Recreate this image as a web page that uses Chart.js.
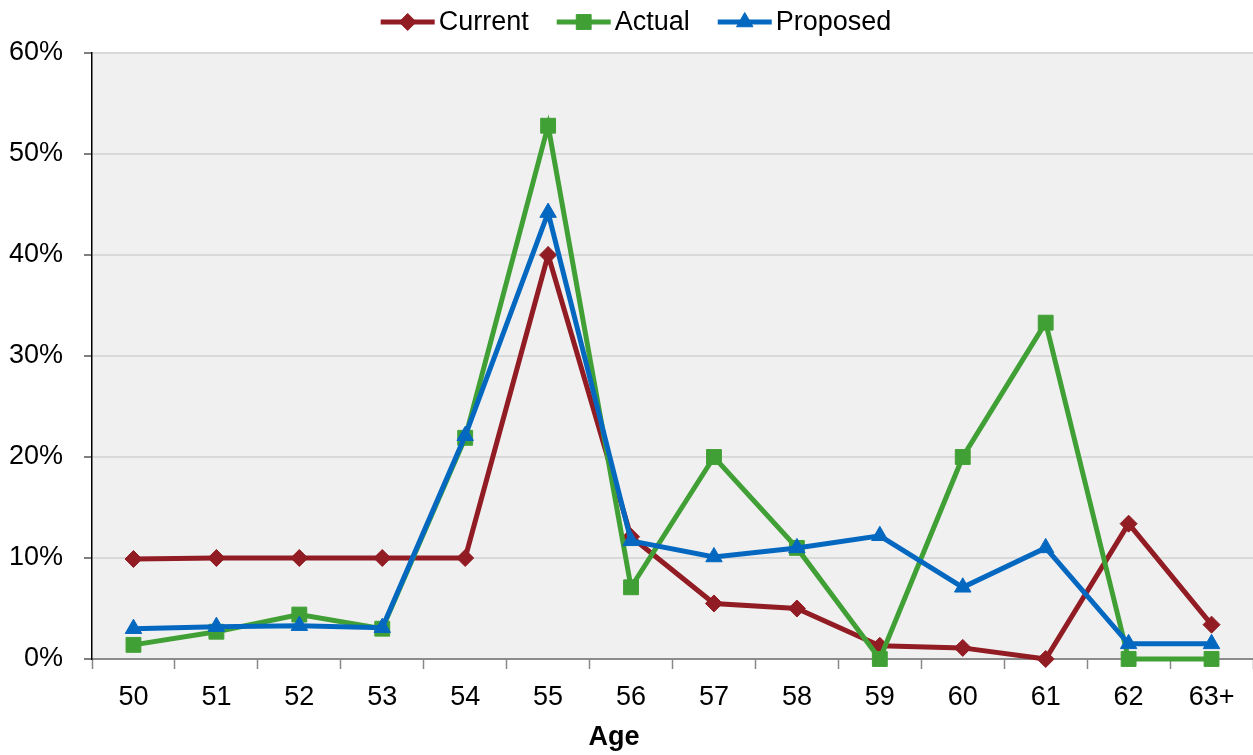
<!DOCTYPE html>
<html>
<head>
<meta charset="utf-8">
<script src="https://cdn.jsdelivr.net/npm/chart.js@4/dist/chart.umd.min.js"></script>
<style>
  html, body { margin: 0; padding: 0; background: #ffffff; }
  #wrap { width: 1253px; height: 755px; position: relative; }
</style>
</head>
<body>
<div id="wrap"><canvas id="chart"></canvas></div>
<script>
// Retirement age distribution (share of retirements at each age, %)
const ages = ['50', '51', '52', '53', '54', '55', '56', '57', '58', '59', '60', '61', '62', '63+'];
const current  = [9.9, 10.0, 10.0, 10.0, 10.0, 40.0, 12.1, 5.5, 5.0, 1.3, 1.1, 0.0, 13.4, 3.4];
const actual   = [1.4, 2.7, 4.4, 3.0, 21.9, 52.8, 7.1, 20.0, 11.0, 0.0, 20.0, 33.3, 0.0, 0.0];
const proposed = [3.0, 3.2, 3.3, 3.1, 22.1, 44.2, 11.7, 10.1, 11.0, 12.2, 7.1, 11.0, 1.5, 1.5];
const yTickValues = [0, 10, 20, 30, 40, 50, 60];
const xAxisTitle = 'Age';

const FONT = "'Liberation Sans Narrow', 'Arial Narrow', 'Liberation Sans', Arial, sans-serif";
const FONT_SIZE = 27;
const RED = '#921C23';
const GREEN = '#41A035';
const BLUE = '#0568C0';

// Light grey fill behind the plotting area
const plotBackground = {
  id: 'plotBackground',
  beforeDraw(chart) {
    const { ctx, chartArea: a } = chart;
    ctx.save();
    ctx.fillStyle = '#F0F0F0';
    ctx.fillRect(a.left, a.top, a.right - a.left, a.bottom - a.top);
    ctx.restore();
  }
};

// Bold axis caption under the category labels
const axisCaption = {
  id: 'axisCaption',
  afterDraw(chart) {
    const ctx = chart.ctx;
    ctx.save();
    ctx.font = 'bold ' + FONT_SIZE + 'px ' + FONT;
    ctx.fillStyle = '#000000';
    ctx.textAlign = 'center';
    ctx.textBaseline = 'alphabetic';
    ctx.fillText(xAxisTitle, 614, 745);
    ctx.restore();
  }
};

// Legend entries drawn as a short line with the series marker in the middle
const lineLegend = {
  id: 'lineLegend',
  afterDraw(chart) {
    const ctx = chart.ctx;
    const lineLen = 54, gapText = 4, gapItem = 28, cy = 22;
    ctx.save();
    ctx.font = FONT_SIZE + 'px ' + FONT;
    const items = chart.data.datasets.map(ds => ({ ds, w: ctx.measureText(ds.label).width }));
    const total = items.reduce((s, it) => s + lineLen + gapText + it.w, 0) + gapItem * (items.length - 1);
    let x = 636 - total / 2;
    items.forEach(({ ds, w }) => {
      ctx.strokeStyle = ds.borderColor;
      ctx.lineWidth = 5;
      ctx.beginPath();
      ctx.moveTo(x, cy);
      ctx.lineTo(x + lineLen, cy);
      ctx.stroke();
      ctx.fillStyle = ds.pointBackgroundColor;
      ctx.strokeStyle = ds.pointBorderColor;
      ctx.lineWidth = 1;
      Chart.helpers.drawPoint(ctx, {
        pointStyle: ds.pointStyle, radius: ds.pointRadius, rotation: 0, borderWidth: 1
      }, x + lineLen / 2, cy);
      ctx.fillStyle = '#000000';
      ctx.textBaseline = 'middle';
      ctx.textAlign = 'left';
      ctx.fillText(ds.label, x + lineLen + gapText, cy + 1);
      x += lineLen + gapText + w + gapItem;
    });
    ctx.restore();
  }
};

function series(label, data, color, style, radius, order) {
  return {
    label, data, order,
    borderColor: color,
    backgroundColor: color,
    borderWidth: 5,
    pointStyle: style,
    pointRadius: radius,
    pointHoverRadius: radius,
    pointBackgroundColor: color,
    pointBorderColor: color,
    pointBorderWidth: 1,
    tension: 0,
    fill: false,
    clip: false
  };
}

new Chart(document.getElementById('chart'), {
  type: 'line',
  data: {
    labels: ages,
    datasets: [
      series('Current', current, RED, 'rectRot', 8.5, 2),
      series('Actual', actual, GREEN, 'rect', 10.5, 1),
      series('Proposed', proposed, BLUE, 'triangle', 9.5, 0)
    ]
  },
  options: {
    responsive: true,
    maintainAspectRatio: false,
    animation: false,
    layout: { autoPadding: false, padding: { top: 53, left: 0, right: 0, bottom: 0 } },
    plugins: {
      legend: { display: false },
      tooltip: { enabled: false }
    },
    scales: {
      x: {
        offset: true,
        grid: {
          offset: true,
          drawOnChartArea: false,
          drawTicks: true,
          tickLength: 10,
          tickColor: '#888888',
          tickWidth: 1.5
        },
        border: { display: true, color: '#8C8C8C', width: 2 },
        ticks: { color: '#000000', font: { family: FONT, size: FONT_SIZE }, padding: 12, maxRotation: 0, autoSkip: false },
        title: { display: false },
        afterFit(scale) {
          scale.height = 96;
          scale.paddingLeft = 0;
          scale.paddingRight = 0;
        }
      },
      y: {
        min: 0, max: 60,
        afterBuildTicks(scale) { scale.ticks = yTickValues.map(v => ({ value: v })); },
        grid: {
          color: '#D9D9D9',
          lineWidth: 2,
          drawTicks: true,
          tickLength: 8,
          tickColor: '#000000',
          tickWidth: 1
        },
        border: { display: true, color: '#000000', width: 1.5 },
        ticks: {
          color: '#000000', font: { family: FONT, size: FONT_SIZE }, padding: 21,
          callback: v => v + '%'
        },
        afterFit(scale) { scale.width = 92; }
      }
    }
  },
  plugins: [plotBackground, axisCaption, lineLegend]
});
</script>
</body>
</html>
